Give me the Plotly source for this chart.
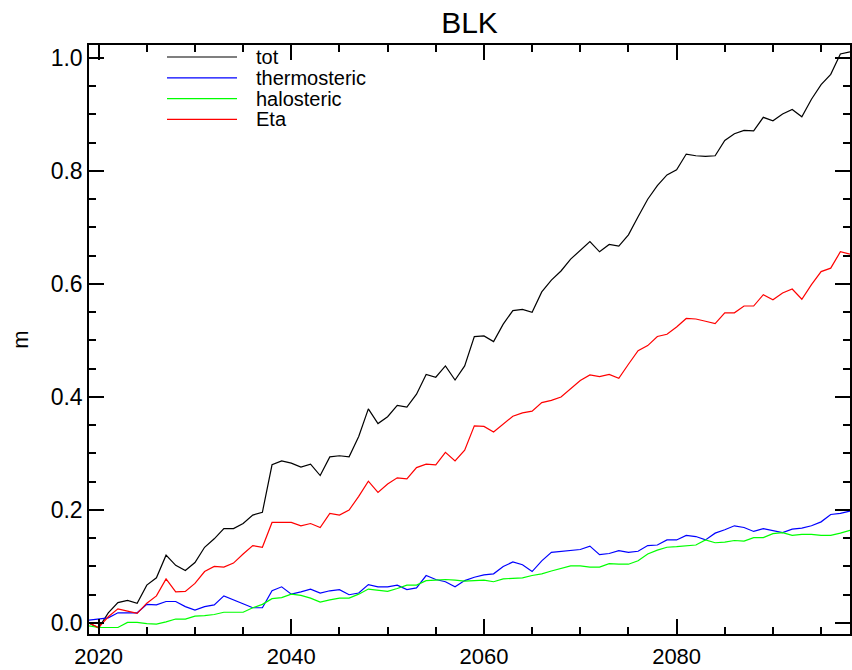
import plotly.graph_objects as go

# Annual sea-level components for the BLK region (metres)
years = list(range(2019, 2099))

tot = [
    0.000, -0.009, 0.018, 0.036, 0.040, 0.035, 0.067, 0.080, 0.120, 0.102,
    0.093, 0.107, 0.134, 0.149, 0.167, 0.167, 0.176, 0.191, 0.196, 0.280,
    0.287, 0.283, 0.276, 0.281, 0.261, 0.294, 0.296, 0.294, 0.330, 0.379,
    0.353, 0.365, 0.385, 0.382, 0.405, 0.440, 0.435, 0.455, 0.430, 0.455,
    0.507, 0.508, 0.498, 0.529, 0.553, 0.555, 0.550, 0.586, 0.607, 0.623,
    0.644, 0.660, 0.675, 0.657, 0.670, 0.667, 0.687, 0.719, 0.750, 0.774,
    0.793, 0.802, 0.830, 0.827, 0.826, 0.827, 0.854, 0.866, 0.872, 0.871,
    0.895, 0.889, 0.901, 0.909, 0.896, 0.927, 0.953, 0.971, 1.007, 1.011,
]

thermosteric = [
    0.005, 0.007, 0.009, 0.018, 0.018, 0.018, 0.033, 0.032, 0.038, 0.038,
    0.029, 0.023, 0.029, 0.032, 0.048, 0.041, 0.033, 0.027, 0.027, 0.057,
    0.064, 0.051, 0.055, 0.060, 0.053, 0.057, 0.059, 0.050, 0.053, 0.068,
    0.064, 0.064, 0.067, 0.059, 0.062, 0.084, 0.077, 0.073, 0.064, 0.075,
    0.081, 0.085, 0.087, 0.100, 0.108, 0.103, 0.091, 0.110, 0.125, 0.127,
    0.128, 0.130, 0.136, 0.121, 0.123, 0.128, 0.125, 0.127, 0.137, 0.138,
    0.147, 0.147, 0.155, 0.153, 0.147, 0.159, 0.165, 0.172, 0.169, 0.162,
    0.167, 0.164, 0.160, 0.166, 0.168, 0.172, 0.179, 0.192, 0.194, 0.198,
]

halosteric = [
    -0.005, -0.008, -0.008, -0.008, 0.001, 0.001, -0.001, -0.002, 0.002, 0.007,
    0.007, 0.012, 0.013, 0.015, 0.019, 0.019, 0.019, 0.027, 0.033, 0.043,
    0.045, 0.051, 0.049, 0.044, 0.037, 0.041, 0.044, 0.044, 0.051, 0.060,
    0.058, 0.056, 0.061, 0.067, 0.067, 0.075, 0.076, 0.077, 0.076, 0.074,
    0.075, 0.076, 0.073, 0.078, 0.079, 0.080, 0.084, 0.087, 0.092, 0.097,
    0.101, 0.101, 0.099, 0.099, 0.105, 0.104, 0.104, 0.110, 0.122, 0.129,
    0.134, 0.135, 0.137, 0.138, 0.147, 0.142, 0.143, 0.146, 0.145, 0.151,
    0.151, 0.158, 0.160, 0.155, 0.157, 0.157, 0.155, 0.155, 0.159, 0.164,
]

eta = [
    0.000, -0.008, 0.011, 0.025, 0.021, 0.017, 0.035, 0.048, 0.078, 0.055,
    0.056, 0.070, 0.091, 0.100, 0.099, 0.106, 0.122, 0.137, 0.134, 0.178,
    0.178, 0.178, 0.172, 0.176, 0.169, 0.194, 0.191, 0.200, 0.224, 0.251,
    0.231, 0.246, 0.257, 0.255, 0.275, 0.281, 0.280, 0.302, 0.287, 0.306,
    0.349, 0.348, 0.338, 0.352, 0.366, 0.372, 0.375, 0.390, 0.394, 0.400,
    0.415, 0.429, 0.439, 0.436, 0.440, 0.433, 0.458, 0.482, 0.491, 0.507,
    0.511, 0.524, 0.539, 0.538, 0.534, 0.530, 0.549, 0.549, 0.561, 0.561,
    0.581, 0.572, 0.584, 0.591, 0.573, 0.599, 0.622, 0.628, 0.657, 0.653,
]

series_names = ["tot", "thermosteric", "halosteric", "Eta"]
series_values = [tot, thermosteric, halosteric, eta]
series_colors = ["#000000", "#0000ff", "#00ff00", "#ff0000"]

x_ticks = [2020, 2040, 2060, 2080]
y_ticks = [0.0, 0.2, 0.4, 0.6, 0.8, 1.0]

W, H = 852, 670
ML, MR, MT, MB = 89, 2, 45, 36
plot_w = W - ML - MR
plot_h = H - MT - MB

FONT = "Liberation Sans, Arial, Helvetica, sans-serif"

fig = go.Figure()
for name, vals, col in zip(series_names, series_values, series_colors):
    fig.add_trace(go.Scatter(
        x=years, y=vals, mode="lines", name=name,
        line=dict(color=col, width=1.2), showlegend=False,
    ))

# Hand-built legend: short line sample followed by the series name
shapes = []
annotations = []
leg_line_x0, leg_line_x1, leg_text_x = 167, 237, 255
leg_y0, leg_dy = 57, 20.8
for i, (name, col) in enumerate(zip(series_names, series_colors)):
    py = leg_y0 + i * leg_dy
    yp = (H - MB - py) / plot_h
    shapes.append(dict(
        type="line", xref="paper", yref="paper",
        x0=(leg_line_x0 - ML) / plot_w, x1=(leg_line_x1 - ML) / plot_w,
        y0=yp, y1=yp, line=dict(color=col, width=1.2),
    ))
    annotations.append(dict(
        xref="paper", yref="paper", x=(leg_text_x - ML) / plot_w, y=yp,
        text=name, showarrow=False, xanchor="left", yanchor="middle",
        borderpad=0,
        font=dict(family=FONT, size=20, color="black"),
    ))

axis_common = dict(
    showgrid=False, zeroline=False, showline=True, linecolor="black",
    linewidth=1.5, mirror="ticks", ticks="inside", tickcolor="black",
    tickwidth=1.5, ticklen=15,
)

fig.update_layout(
    width=W, height=H,
    margin=dict(l=ML, r=MR, t=MT, b=MB, autoexpand=False),
    paper_bgcolor="white", plot_bgcolor="white",
    title=dict(
        text="BLK", x=0.5, xref="paper", xanchor="center",
        y=1 - 22 / H, yref="container", yanchor="middle",
        font=dict(family=FONT, size=30, color="black"),
    ),
    xaxis=dict(
        range=[2019, 2098], tickvals=x_ticks, ticktext=[str(v) for v in x_ticks],
        minor=dict(dtick=5, tick0=2020, ticks="inside", ticklen=7,
                   tickcolor="black", tickwidth=1.5),
        ticklabelstandoff=2,
        tickfont=dict(family=FONT, size=22, color="black"),
        **axis_common,
    ),
    yaxis=dict(
        range=[-0.0195, 1.023], tickvals=y_ticks,
        ticktext=[f"{v:.1f}" for v in y_ticks],
        minor=dict(dtick=0.05, tick0=0, ticks="inside", ticklen=7,
                   tickcolor="black", tickwidth=1.5),
        ticklabelstandoff=0,
        tickfont=dict(family=FONT, size=23, color="black"),
        title=dict(text="m", standoff=16,
                   font=dict(family=FONT, size=22, color="black")),
        **axis_common,
    ),
    shapes=shapes,
    annotations=annotations,
)

fig.write_html("out.html")
